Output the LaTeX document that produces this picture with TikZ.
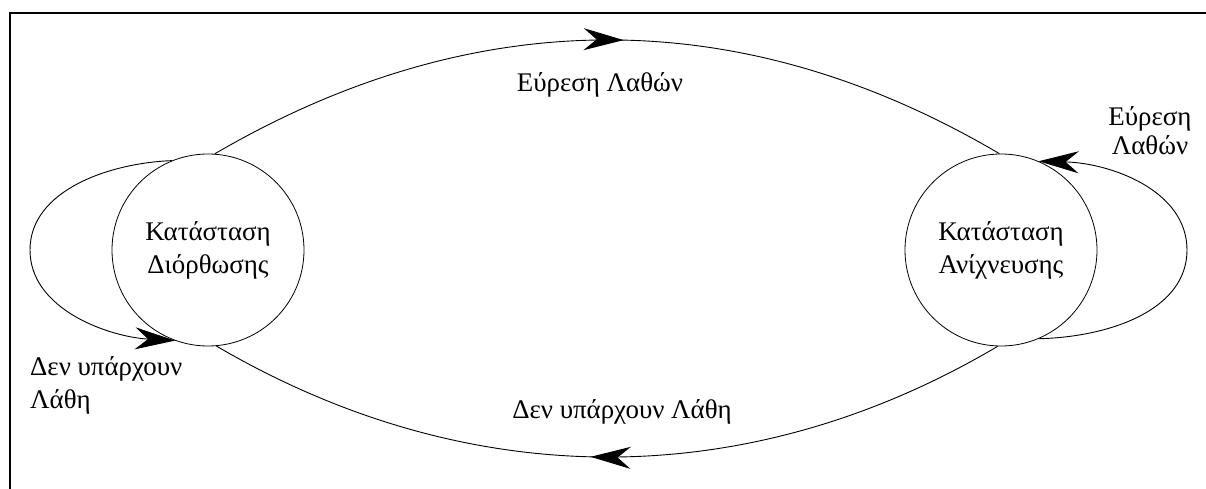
\documentclass[tikz,border=0pt]{standalone}
\usepackage{fontspec}
\setmainfont{Liberation Serif}
\usetikzlibrary{arrows.meta,decorations.markings}
\tikzset{
  state/.style={circle, draw, line width=0.8bp, minimum size=192bp, inner sep=0pt, align=center, font=\fontsize{27}{33}\selectfont},
  lbl/.style={inner sep=0pt, font=\fontsize{27}{33}\selectfont},
  conn/.style={line width=0.9bp},
  bigtip/.tip={Stealth[length=40bp,width=22bp,inset=13bp]},
  frame/.style={line width=2.6bp},
  midarrow/.style={postaction={decorate}, decoration={markings, mark=at position #1 with {\arrow{bigtip}}}}
}
\begin{document}
\begin{tikzpicture}[x=1bp,y=-1bp]
\useasboundingbox (0,0) rectangle (1206,489);
\draw[frame] (10,489) -- (10,13) -- (1206,13);

\node[state] (L) at (208,250) {Κατάσταση\\Διόρθωσης};
\node[state] (R) at (1001,250) {Κατάσταση\\Ανίχνευσης};

% top arc: correction -> detection
\draw[conn, midarrow=0.52] (L.86) .. controls (475,2) and (742,2) .. (R.91);
% bottom arc: detection -> correction
\draw[conn, midarrow=0.52] (R.-92) .. controls (748,494) and (469,494) .. (L.-85);

% self loops
\draw[conn, -{bigtip}] (L.112) .. controls (110,163) and (30,190) .. (30,250)
   .. controls (30,310) and (110,337) .. (L.-110);
\draw[conn, -{bigtip}] (R.-67) .. controls (1110,337) and (1187,310) .. (1187,250)
   .. controls (1187,190) and (1110,163) .. (R.67);

% labels
\node[lbl, anchor=base] (t1) at (600,92) {Εύρεση Λαθών};
\node[lbl, anchor=base] (t2) at (622,418) {Δεν υπάρχουν Λάθη};
\node[lbl, align=center, font=\fontsize{27}{29}\selectfont] (t3) at (1150,131) {Εύρεση\\Λαθών};
\node[lbl, align=left, anchor=west] (t4) at (30,385) {Δεν υπάρχουν\\Λάθη};
\end{tikzpicture}
\end{document}
